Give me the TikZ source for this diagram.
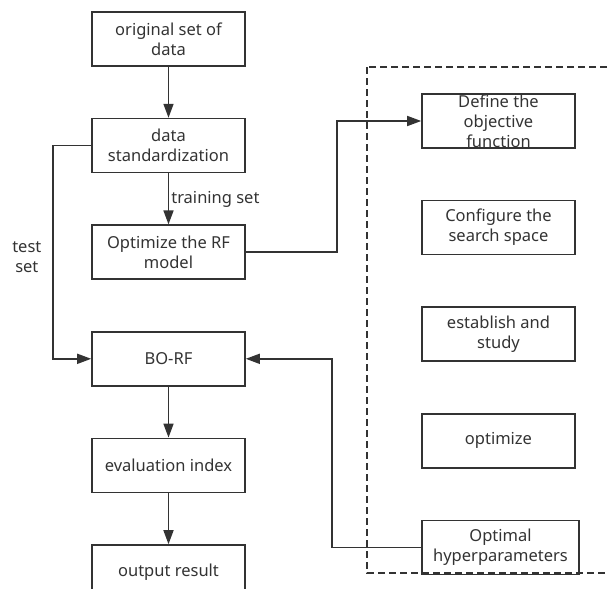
\documentclass[tikz,border=0pt]{standalone}
\usepackage{fontspec}
\setmainfont{Noto Sans}
\usepackage{tikz}
\usetikzlibrary{positioning}
\usetikzlibrary{arrows.meta}
\definecolor{inkgray}{rgb}{0.2, 0.2, 0.2}

\begin{document}
\begin{tikzpicture}[every node/.style={draw=inkgray,line width=1.6pt,text=inkgray,align=center,
    minimum width=153pt,minimum height=54pt,inner sep=0pt,
    font=\fontsize{16.5pt}{20pt}\selectfont},
  plain/.style={draw=none,minimum width=0pt,minimum height=0pt},
  link/.style={draw=inkgray,line width=1.6pt},
  node distance=51pt,
  >={Triangle[length=14pt,width=10pt]}]
  \useasboundingbox (0,0) rectangle (608pt,-589pt);

  \node[] (orig) at (168.5pt,-39pt) {original set of\\data};
  \node[below=of orig] (std) {data\\standardization};
  \node[below=of std] (opt) {Optimize the RF\\model};
  \node[below=of opt] (bo) {BO-RF};
  \node[below=of bo] (eval) {evaluation index};
  \node[below=of eval] (out) {output result};

  \draw[link,dash pattern=on 7pt off 4pt] (367pt,-67pt) rectangle (630pt,-573pt);

  \node[inner ysep=-5pt] (def) at (498.5pt,-121pt) {Define the\\objective\\function};
  \node[below=of def] (conf) {Configure the\\search space};
  \node[below=of conf] (est) {establish and\\study};
  \node[below=of est] (optim) {optimize};
  \node[below=of optim,minimum width=157pt,xshift=2pt] (hyp) {Optimal\\hyperparameters};

  \draw[link,->] (orig) -- (std);
  \draw[link,->] (std) -- node[plain,anchor=west,xshift=2pt] (train) {training set} (opt);
  \draw[link,->] (std.west) -- ++(-38pt,0) |- node[plain,pos=0.25,left=11pt,yshift=-5pt] (test) {test\\set} (bo.west);
  \draw[link,->] (opt.east) -- ++(91pt,0) |- (def.west);
  \draw[link,->] (hyp.west) -- ++(-89pt,0) |- (bo.east);
  \draw[link,->] (bo) -- (eval);
  \draw[link,->] (eval) -- (out);
\end{tikzpicture}
\end{document}
